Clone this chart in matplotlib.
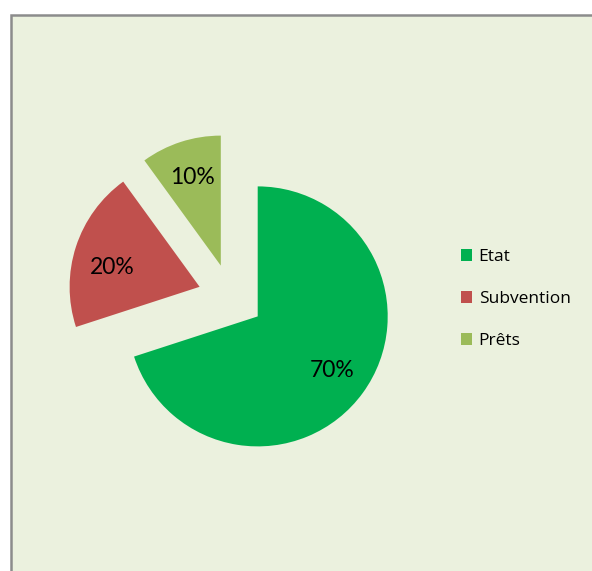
import matplotlib.pyplot as plt
from matplotlib.patches import Rectangle

# données du graphique
labels = ['Etat', 'Subvention', 'Prêts']
parts = [70, 20, 10]
couleurs = ['#00B050', '#C0504D', '#9BBB59']

W, H = 592, 571
plt.rcParams['font.family'] = ['Lato', 'DejaVu Sans']

fig = plt.figure(figsize=(W / 100, H / 100), dpi=100, facecolor='white')
ax = fig.add_axes([0, 0, 1, 1])

# fond de la zone du graphique + bordure (seulement gauche et haut visibles)
ax.add_patch(Rectangle((11, -10), W + 40, H - 15 + 10, facecolor='#EBF1DE',
                       edgecolor='none', zorder=0, clip_on=False))
ax.plot([11, 11, W + 5], [-5, H - 15, H - 15], color='#8C8C8C', lw=1.8,
        solid_joinstyle='miter', zorder=0.5, clip_on=False)

wedges, texts, autotexts = ax.pie(parts, colors=couleurs, startangle=90,
                                  counterclock=False, center=(231, H - 297),
                                  radius=130, explode=[33, 33, 33],
                                  autopct='%1.0f%%', pctdistance=0.71,
                                  textprops={'fontsize': 16.5, 'color': 'black'},
                                  wedgeprops={'linewidth': 0}, frame=True)
ax.set_xlim(0, W)
ax.set_ylim(0, H)
ax.set_axis_off()

# étiquette 20% un peu plus bas, comme dans Excel
x, y = autotexts[1].get_position()
autotexts[1].set_position((x, y - 9))

ax.legend(wedges, labels, loc='upper left', bbox_to_anchor=(461, H - 249),
          bbox_transform=ax.transData, frameon=False,
          prop={'family': ['Open Sans', 'DejaVu Sans'], 'size': 12.5},
          handlelength=0.66, handleheight=0.66, handletextpad=0.36,
          labelspacing=1.51, borderpad=0, borderaxespad=0)

plt.savefig('out.png', dpi=100, facecolor='white')
